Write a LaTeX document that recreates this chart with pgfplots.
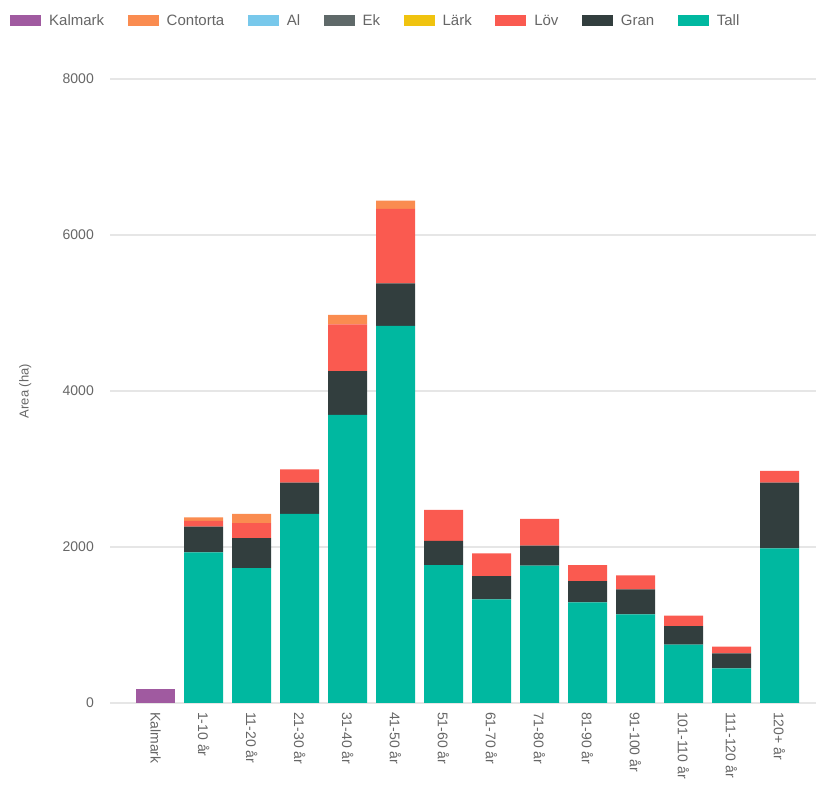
\documentclass[border=0pt]{standalone}
\usepackage{fontspec}
\setmainfont{Liberation Sans}
\usepackage{pgfplots}
\usepackage{pgfplotstable}
\pgfplotsset{compat=1.18}

\definecolor{cKalmark}{HTML}{A05AA0}
\definecolor{cContorta}{HTML}{FA8C50}
\definecolor{cAl}{HTML}{78C8EB}
\definecolor{cEk}{HTML}{5F6969}
\definecolor{cLark}{HTML}{F0C30F}
\definecolor{cLov}{HTML}{FA5A50}
\definecolor{cGran}{HTML}{323E3E}
\definecolor{cTall}{HTML}{00B8A0}
\definecolor{txt}{HTML}{666666}
\definecolor{gridc}{HTML}{E6E6E6}

% area (ha) per age class, stacked from Tall upwards
\pgfplotstableread{
x  Tall Gran Lov Lark Ek Al Contorta Kalmark
0  0    0    0   0    0  0  0        180
1  1930 330  75  0    0  0  45       0
2  1730 385  190 0    0  0  120      0
3  2425 400  170 0    0  0  0        0
4  3695 560  600 0    0  0  120      0
5  4835 545  955 0    0  0  105      0
6  1767 312  396 0    0  0  0        0
7  1330 298  290 0    0  0  0        0
8  1761 256  342 0    0  0  0        0
9  1291 273  205 0    0  0  0        0
10 1137 320  180 0    0  0  0        0
11 748  239  133 0    0  0  0        0
12 444  193  85  0    0  0  0        0
13 1983 842  150 0    0  0  0        0
}\areas

\begin{document}
\begin{tikzpicture}
\useasboundingbox (0pt,0pt) rectangle (816pt,791pt);
\begin{axis}[
    at={(110pt,88pt)}, anchor=south west,
    scale only axis,
    width=706pt, height=624pt,
    ybar stacked,
    bar width=39pt,
    xmin=-0.95, xmax=13.76,
    ymin=0, ymax=8000,
    ytick={0,2000,4000,6000,8000},
    xtick=data,
    xticklabels={Kalmark,1-10 år,11-20 år,21-30 år,31-40 år,41-50 år,51-60 år,61-70 år,71-80 år,81-90 år,91-100 år,101-110 år,111-120 år,120+ år},
    /pgf/number format/assume math mode=true,
    /pgf/number format/1000 sep={},
    axis line style={draw=none},
    major tick length=0pt,
    ymajorgrids,
    grid style={gridc, line width=1.3pt},
    yticklabel style={font=\fontsize{14}{16}\selectfont, text=txt, inner sep=0pt, xshift=-16pt},
    xticklabel style={font=\fontsize{14}{16}\selectfont, text=txt, inner sep=0pt, yshift=-9pt, rotate=-90, anchor=west},
    ylabel={Area (ha)},
    every axis y label/.style={at={(axis description cs:-0.12,0.5)}, rotate=90, anchor=center,
        font=\fontsize{13}{15}\selectfont, text=txt},
    legend style={at={(axis description cs:-0.1416,1.093)}, anchor=west,
        legend columns=-1, draw=none, fill=none, inner sep=0pt,
        font=\fontsize{15}{17}\selectfont, text=txt,
        /tikz/every odd column/.append style={column sep=6pt},
        /tikz/every even column/.append style={column sep=21.5pt}},
    legend image code/.code={\fill[#1] (0pt,-5.5pt) rectangle (31pt,5.5pt);},
    reverse legend,
]
\addplot[fill=cTall, draw=none] table[x=x, y=Tall] {\areas};
\addplot[fill=cGran, draw=none] table[x=x, y=Gran] {\areas};
\addplot[fill=cLov, draw=none] table[x=x, y=Lov] {\areas};
\addplot[fill=cLark, draw=none] table[x=x, y=Lark] {\areas};
\addplot[fill=cEk, draw=none] table[x=x, y=Ek] {\areas};
\addplot[fill=cAl, draw=none] table[x=x, y=Al] {\areas};
\addplot[fill=cContorta, draw=none] table[x=x, y=Contorta] {\areas};
\addplot[fill=cKalmark, draw=none] table[x=x, y=Kalmark] {\areas};
\legend{Tall,Gran,Löv,Lärk,Ek,Al,Contorta,Kalmark}
\end{axis}
\end{tikzpicture}
\end{document}
